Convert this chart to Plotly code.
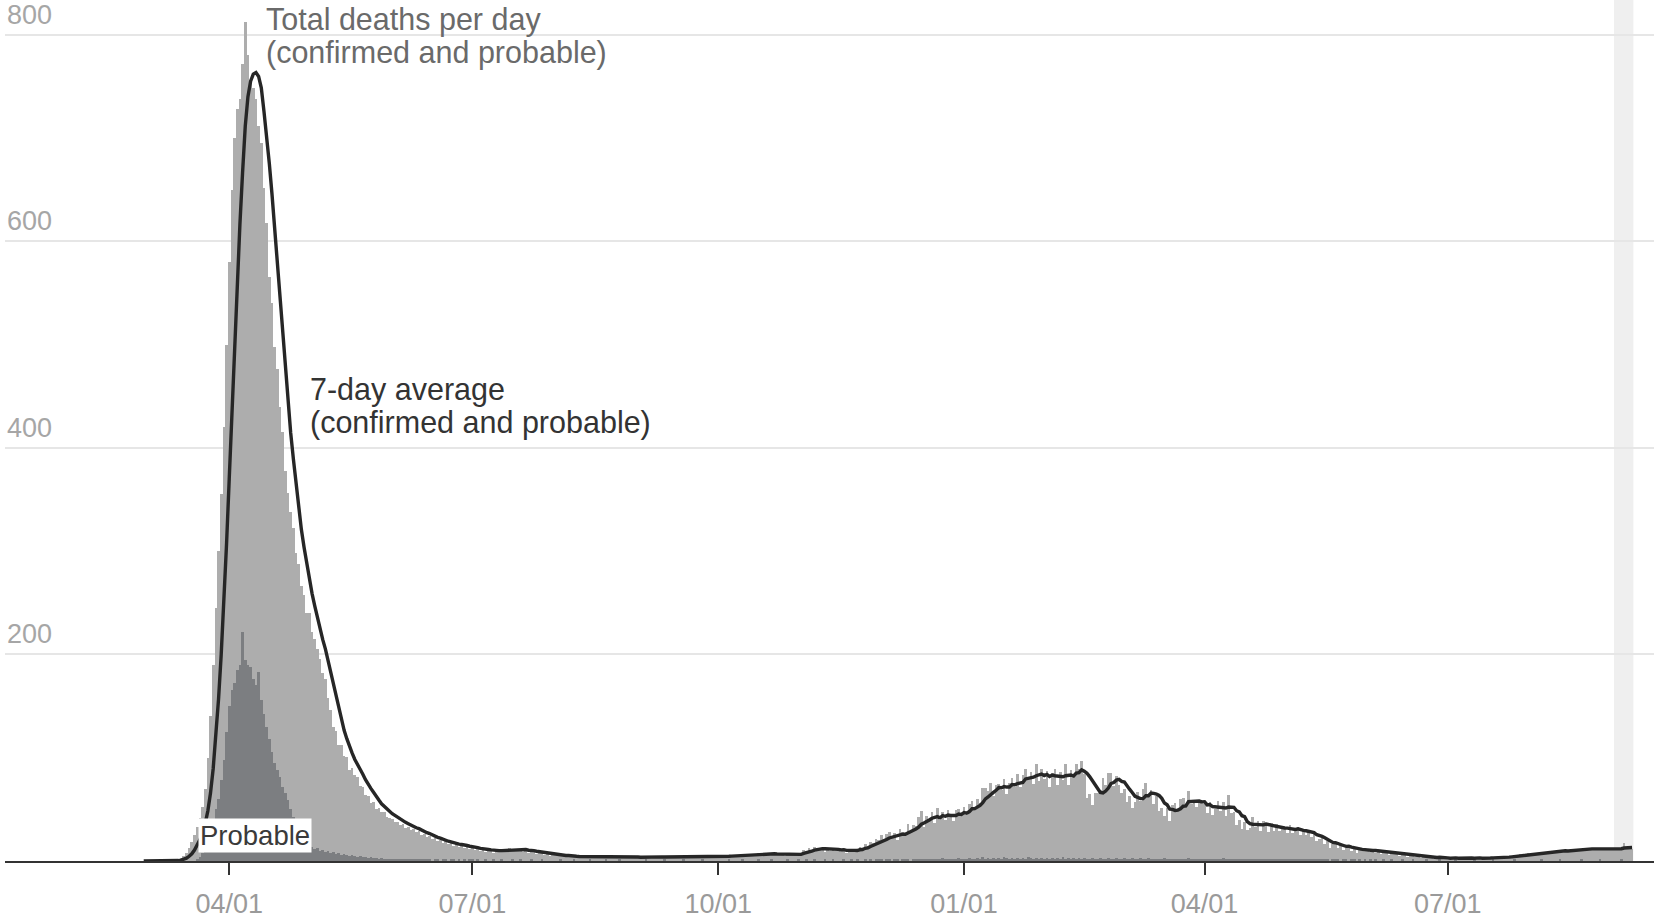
import pandas as pd
import plotly.graph_objects as go

# ---------------- data (daily deaths) ----------------
start_date = "2020-02-29"

deaths_2020_02 = [0]
deaths_2020_03 = [0,0,0,0,0,0,0,0,0,0, 1,0,2,3,5,8,13,18,25,33, 42,52,70,100,140,190,245,300,355,420,500]
deaths_2020_04 = [580,650,700,728,738,772,812,780,755,748, 738,712,695,652,618,565,540,498,476,440,
                  415,378,356,338,322,298,288,266,258,240]
deaths_2020_05 = [240,222,215,205,196,182,176,158,146,130, 126,112,112,102,101,88,90,83,81,73,
                  72,64,63,56,57,50,51,47,47,43,42]
deaths_2020_06 = [41,38,38,35,36,32,33,30,31,28, 29,25,26,23,24,21,22,19,20,17, 19,16,17,15,16,14,15,13,15,12]
deaths_2020_07 = [13,11,12,10,12,9,11,10,8,11, 9,12,10,11,13,10,12,11,12,9, 11,8,10,9,7,9,8,6,8,5,7]
deaths_2020_08 = [6,5,5,5,4,5,4,5,4,4, 5,4,3,4,5,4,4,3,4,5, 4,4,3,4,4,5,3,4,4,3,4]
deaths_2020_09 = [4,3,4,5,3,4,4,3,5,4, 4,3,4,4,5,3,4,4,3,4, 5,4,3,4,4,5,4,3,4,5]
deaths_2020_10 = [4,5,4,5,5,5,6,5,6,6, 5,7,6,7,7,8,7,6,7,8, 6,7,6,7,6,5,6,6,7,6,7]
deaths_2020_11 = [8,11,10,13,11,14,11,12,13,9, 13,10,11,10,13,9,11,8,12,9, 10,12,14,13,16,15,18,17,21,20]
deaths_2020_12 = [25,19,26,28,22,27,20,31,28,25, 36,28,35,34,43,48,33,44,41,47, 37,51,40,47,40,49,44,39,49,50,45]
deaths_2021_01 = [52,45,55,58,50,60,56,71,71,68, 76,63,74,75,69,79,65,76,80,72, 84,72,83,89,79,86,75,94,77,89,79]
deaths_2021_02 = [87,72,85,89,74,86,78,94,74,88, 82,94,89,97,84,61,65,54,66,66, 69,80,74,85,85,73,82,74]
deaths_2021_03 = [66,70,57,63,51,57,67,58,70,76, 63,69,55,63,48,51,44,51,39,54, 56,50,60,61,53,68,55,58,52,59,55]
deaths_2021_04 = [55,46,57,45,50,58,48,57,44,64, 46,47,35,40,31,38,30,32,43,33, 39,29,39,35,28,37,29,36,29,32]
deaths_2021_05 = [33,27,35,27,31,33,25,29,25,30, 23,27,19,21,22,16,19,13,16,17, 13,16,11,13,14,10,12,8,12,10,11]
deaths_2021_06 = [11,9,10,8,10,7,9,8,6,8, 7,8,5,7,6,4,6,5,4,5, 3,5,4,3,4,2,3,4,2,3]
deaths_2021_07 = [3,2,4,3,2,3,4,2,3,3, 2,4,3,2,4,3,2,3,4,3, 4,3,5,4,5,6,5,7,6,7,8]
deaths_2021_08 = [7,8,7,8,9,8,9,10,9,10, 9,10,11,10,9,11,10,11,12,11, 12,11,12,13,11,12,12,13,12,11,12]
deaths_2021_09 = [12,13,11,12,17,12,14,12]

probable_2020_02 = [0]
probable_2020_03 = [0,0,0,0,0,0,0,0,0,0, 0,0,0,0,0,0,0,0,0,2, 4,8,14,20,28,38,50,60,78,98,125]
probable_2020_04 = [150,166,172,185,190,222,195,190,188,176, 170,183,156,142,130,118,106,95,88,81,
                    72,66,59,50,43,34,28,24,20,18]
probable_2020_05 = [15,14,12,13,10,11,9,10,8,9, 7,8,6,7,6,5,6,5,4,5, 4,4,3,4,3,3,2,3,2,2,2]
probable_2020_06 = [2,1,2,1,2,1,1,2,1,1, 1,2,1,1,1,0,1,1,0,1, 1,0,1,1,0,1,0,1,0,1]
probable_2020_07 = [1,0,1,0,0,1,0,0,1,0, 0,1,0,0,0,1,0,0,1,0, 0,0,1,0,0,0,1,0,0,0,0]
probable_2020_08 = [0,0,1,0,0,0,0,1,0,0, 0,0,0,1,0,0,0,0,0,1, 0,0,0,0,1,0,0,0,0,0,0]
probable_2020_09 = [0,0,0,1,0,0,0,0,0,0, 1,0,0,0,0,0,0,1,0,0, 0,0,0,0,1,0,0,0,0,0]
probable_2020_10 = [0,0,0,0,1,0,0,0,0,1, 0,0,0,0,0,1,0,0,0,0, 1,0,0,0,0,0,1,0,0,0,1]
probable_2020_11 = [0,0,1,0,0,1,0,0,0,1, 0,0,1,0,0,0,1,0,0,1, 0,1,0,0,1,0,1,0,1,1]
probable_2020_12 = [1,0,1,1,0,1,1,0,2,1, 1,0,2,1,1,2,1,1,2,1, 1,2,1,3,1,2,1,1,2,3,2]
probable_2021_01 = [2,1,3,2,2,3,2,4,2,3, 2,3,2,3,2,4,3,2,3,2, 3,2,3,2,4,3,2,3,2,3,2]
probable_2021_02 = [3,2,3,2,3,2,4,2,3,2, 3,2,3,2,3,2,2,3,2,2, 3,2,2,3,2,2,3,2]
probable_2021_03 = [2,3,2,2,3,2,2,3,2,2, 3,2,2,1,2,2,3,2,2,1, 2,2,1,2,2,3,2,1,2,2,1]
probable_2021_04 = [2,1,2,2,1,2,1,3,2,1, 2,1,2,1,1,2,1,1,2,1, 1,2,1,1,2,1,1,1,2,1]
probable_2021_05 = [1,1,2,1,1,1,2,1,1,1, 1,2,1,1,1,1,1,0,1,1, 1,0,1,1,0,1,1,0,1,0,1]
probable_2021_06 = [0,1,0,1,0,0,1,0,0,1, 0,0,0,1,0,0,0,1,0,0, 0,0,1,0,0,0,0,1,0,0]
probable_2021_07 = [0,0,0,1,0,0,0,0,0,0, 1,0,0,0,0,0,0,1,0,0, 0,0,0,0,0,1,0,0,0,0,0]
probable_2021_08 = [0,0,0,0,1,0,0,0,0,0, 0,1,0,0,0,0,0,0,0,1, 0,0,0,0,0,0,1,0,0,0,0]
probable_2021_09 = [0,0,0,1,0,0,0,0]

tick_dates = ["2020-04-01", "2020-07-01", "2020-10-01", "2021-01-01", "2021-04-01", "2021-07-01"]
tick_labels = ["04/01", "07/01", "10/01", "01/01", "04/01", "07/01"]
y_grid = [200, 400, 600, 800]

# ---------------- assemble ----------------
total = (deaths_2020_02 + deaths_2020_03 + deaths_2020_04 + deaths_2020_05 + deaths_2020_06 +
         deaths_2020_07 + deaths_2020_08 + deaths_2020_09 + deaths_2020_10 + deaths_2020_11 +
         deaths_2020_12 + deaths_2021_01 + deaths_2021_02 + deaths_2021_03 + deaths_2021_04 +
         deaths_2021_05 + deaths_2021_06 + deaths_2021_07 + deaths_2021_08 + deaths_2021_09)
probable = (probable_2020_02 + probable_2020_03 + probable_2020_04 + probable_2020_05 + probable_2020_06 +
            probable_2020_07 + probable_2020_08 + probable_2020_09 + probable_2020_10 + probable_2020_11 +
            probable_2020_12 + probable_2021_01 + probable_2021_02 + probable_2021_03 + probable_2021_04 +
            probable_2021_05 + probable_2021_06 + probable_2021_07 + probable_2021_08 + probable_2021_09)
n = min(len(total), len(probable))
total, probable = total[:n], probable[:n]
dates = pd.date_range(start_date, periods=n, freq="D")
avg7 = pd.Series(total, index=dates).rolling(7, min_periods=1).mean()

FONT = "Arial, Liberation Sans, sans-serif"

fig = go.Figure()
fig.add_trace(go.Bar(x=dates, y=total, marker=dict(color="#adadad", line=dict(width=0)), hoverinfo="skip"))
fig.add_trace(go.Bar(x=dates, y=probable, marker=dict(color="#7c7e81", line=dict(width=0)), hoverinfo="skip"))
fig.add_trace(go.Scatter(x=dates, y=avg7, mode="lines", line=dict(color="#262626", width=3.4), hoverinfo="skip"))

# incomplete-data band
fig.add_shape(type="rect", xref="x", yref="paper", x0="2021-09-01 06:00", x1="2021-09-08 12:00",
              y0=0, y1=1.02, fillcolor="#efefef", line=dict(width=0), layer="below")

H_PLOT = 847.0
W_PLOT = 1649.0
def ypx(pix):
    # pixel row (from top of figure) -> paper coordinate
    return (861.0 - pix) / H_PLOT
def xpx(pix):
    return (pix - 5.0) / W_PLOT

ann = []
for v in y_grid:
    ann.append(dict(xref="paper", yref="y", x=0, y=v, xanchor="left", yanchor="middle", yshift=20,
                    text=str(v), showarrow=False, font=dict(family=FONT, size=27, color="#a6a6a6")))

ann += [
    dict(xref="paper", yref="paper", x=xpx(264), y=ypx(20), xanchor="left", yanchor="middle",
         text="Total deaths per day", showarrow=False, font=dict(family=FONT, size=30.5, color="#6a6a6a")),
    dict(xref="paper", yref="paper", x=xpx(264), y=ypx(52), xanchor="left", yanchor="middle",
         text="(confirmed and probable)", showarrow=False, font=dict(family=FONT, size=30.5, color="#6a6a6a")),
    dict(xref="paper", yref="paper", x=xpx(308), y=ypx(389), xanchor="left", yanchor="middle",
         text="7-day average", showarrow=False, font=dict(family=FONT, size=30.5, color="#333333")),
    dict(xref="paper", yref="paper", x=xpx(308), y=ypx(422), xanchor="left", yanchor="middle",
         text="(confirmed and probable)", showarrow=False, font=dict(family=FONT, size=30.5, color="#333333")),
    dict(xref="paper", yref="paper", x=xpx(198), y=ypx(835), xanchor="left", yanchor="middle",
         text="Probable", showarrow=False, bgcolor="white", borderpad=1,
         font=dict(family=FONT, size=27.5, color="#3a3a3a")),
]

fig.update_layout(
    width=1657, height=919,
    margin=dict(l=5, r=3, t=14, b=58, autoexpand=False),
    paper_bgcolor="white", plot_bgcolor="white",
    barmode="overlay", bargap=0,
    showlegend=False, hovermode=False,
    annotations=ann,
    xaxis=dict(type="date", range=["2020-01-08 02:00", "2021-09-16 05:00"],
               tickvals=tick_dates, ticktext=tick_labels,
               ticks="outside", ticklen=12, tickwidth=2, tickcolor="#333333",
               ticklabelstandoff=6, automargin=False,
               tickfont=dict(family=FONT, size=27, color="#9a9a9a"),
               showline=True, linecolor="#333333", linewidth=2,
               showgrid=False, zeroline=False),
    yaxis=dict(range=[0, 820], tickvals=y_grid, showticklabels=False, automargin=False,
               showgrid=True, gridcolor="#e6e6e6", gridwidth=2, zeroline=False, ticks=""),
)

fig.write_html("out.html", config={"displayModeBar": False},
               post_script="document.body.style.margin='0';document.body.style.overflow='hidden';")
